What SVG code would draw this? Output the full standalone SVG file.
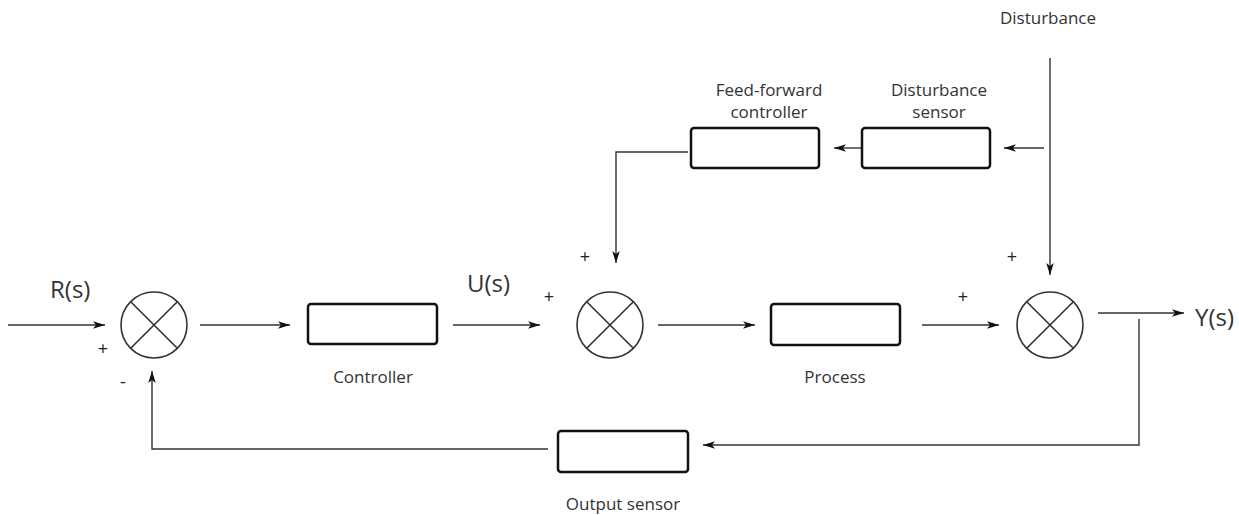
<svg xmlns="http://www.w3.org/2000/svg" width="1239" height="515" viewBox="0 0 1239 515">
  <defs>
    <marker id="arrow" viewBox="0 0 12 10" refX="12" refY="5" markerWidth="12" markerHeight="10" markerUnits="userSpaceOnUse" orient="auto">
      <path d="M0,1.2 L12,5 L0,8.8 L3,5 Z" fill="#111"/>
    </marker>
    <g id="sum">
      <circle cx="0" cy="0" r="33" fill="#fff" stroke="#333" stroke-width="1.6"/>
      <line x1="-23.3" y1="-23.3" x2="23.3" y2="23.3" stroke="#333" stroke-width="1.6"/>
      <line x1="23.3" y1="-23.3" x2="-23.3" y2="23.3" stroke="#333" stroke-width="1.6"/>
    </g>
  </defs>
  <style>
    .box { fill: #fff; stroke: #111; stroke-width: 2.5; }
    .wire { fill: none; stroke: #333; stroke-width: 1.4; }
    .lbl { font-family: "Open Sans", "Liberation Sans", sans-serif; font-size: 17px; fill: #333; text-anchor: middle; }
    .sig { font-family: "Open Sans", "Liberation Sans", sans-serif; font-size: 24px; fill: #333; }
    .sign { font-family: "Open Sans", "Liberation Sans", sans-serif; font-size: 18px; fill: #222; text-anchor: middle; }
  </style>
  <rect width="1239" height="515" fill="#fff"/>

  <!-- connectors -->
  <g id="connectors">
    <line class="wire" x1="8" y1="325" x2="105" y2="325" marker-end="url(#arrow)"/>
    <line class="wire" x1="200" y1="325" x2="290" y2="325" marker-end="url(#arrow)"/>
    <line class="wire" x1="453" y1="325" x2="540" y2="325" marker-end="url(#arrow)"/>
    <line class="wire" x1="658" y1="325" x2="755" y2="325" marker-end="url(#arrow)"/>
    <line class="wire" x1="922" y1="325" x2="999" y2="325" marker-end="url(#arrow)"/>
    <line class="wire" x1="1098" y1="313" x2="1184" y2="313" marker-end="url(#arrow)"/>
    <!-- disturbance path -->
    <line class="wire" x1="1050" y1="58" x2="1050" y2="275" marker-end="url(#arrow)"/>
    <line class="wire" x1="1044" y1="148" x2="1004" y2="148" marker-end="url(#arrow)"/>
    <line class="wire" x1="862" y1="148" x2="834" y2="148" marker-end="url(#arrow)"/>
    <polyline class="wire" points="688,152 616,152 616,263" marker-end="url(#arrow)"/>
    <!-- output feedback -->
    <polyline class="wire" points="1139,319 1139,445 703,445" marker-end="url(#arrow)"/>
    <polyline class="wire" points="548,449 152,449 152,371" marker-end="url(#arrow)"/>
  </g>

  <!-- summing junctions -->
  <g id="sum1">
    <use href="#sum" x="154" y="325"/>
    <text class="sign" x="103" y="355">+</text>
    <text class="sign" x="123" y="388">-</text>
  </g>
  <g id="sum2">
    <use href="#sum" x="610" y="325"/>
    <text class="sign" x="549" y="303">+</text>
    <text class="sign" x="585" y="263">+</text>
  </g>
  <g id="sum3">
    <use href="#sum" x="1050" y="325"/>
    <text class="sign" x="963" y="303">+</text>
    <text class="sign" x="1012" y="263">+</text>
  </g>

  <!-- blocks -->
  <g id="controller">
    <rect class="box" x="308" y="304" width="129" height="40" rx="3"/>
    <text class="lbl" x="373" y="383">Controller</text>
  </g>
  <g id="process">
    <rect class="box" x="771" y="304" width="129" height="41" rx="3"/>
    <text class="lbl" x="835" y="383">Process</text>
  </g>
  <g id="feedforward">
    <rect class="box" x="691" y="128" width="128" height="40" rx="3"/>
    <text class="lbl" x="769" y="96">Feed-forward</text>
    <text class="lbl" x="769" y="118">controller</text>
  </g>
  <g id="disturbance-sensor">
    <rect class="box" x="862" y="128" width="128" height="40" rx="3"/>
    <text class="lbl" x="939" y="96">Disturbance</text>
    <text class="lbl" x="939" y="118">sensor</text>
  </g>
  <g id="output-sensor">
    <rect class="box" x="558" y="431" width="130" height="41" rx="3"/>
    <text class="lbl" x="623" y="510">Output sensor</text>
  </g>

  <!-- signal labels -->
  <g id="signals">
    <text class="sig" x="50" y="298">R(s)</text>
    <text class="sig" x="467" y="292">U(s)</text>
    <text class="sig" x="1195" y="326">Y(s)</text>
    <text class="lbl" x="1048" y="24">Disturbance</text>
  </g>
</svg>
